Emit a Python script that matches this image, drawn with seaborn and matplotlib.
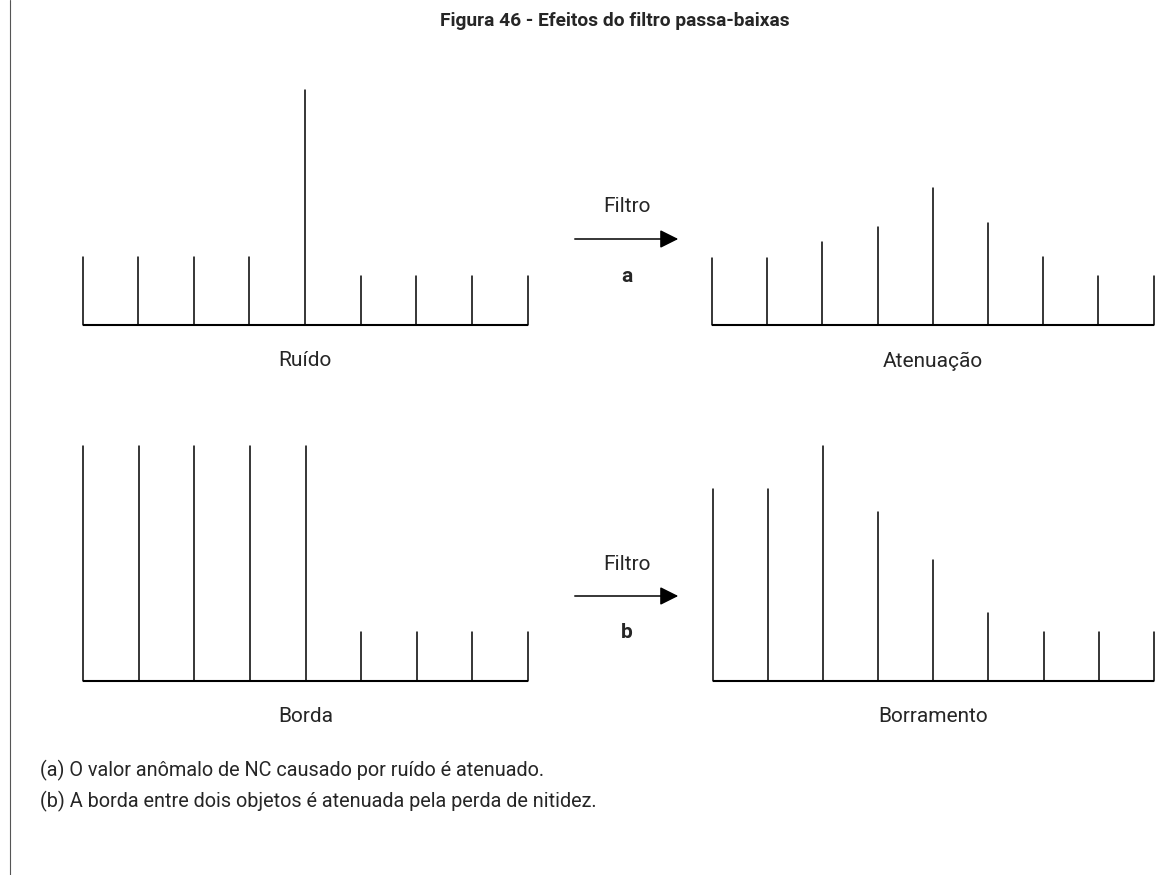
import pandas as pd
import seaborn as sns
import matplotlib.pyplot as plt
from matplotlib.patches import FancyArrowPatch
from matplotlib.lines import Line2D

# valores dos níveis de cinza (altura das hastes)
ruido = [68, 68, 68, 68, 235, 49, 49, 49, 49]
atenuacao = [67, 67, 83, 98, 137, 102, 68, 49, 49]
borda = [235, 235, 235, 235, 235, 49, 49, 49, 49]
borramento = [192, 192, 235, 169, 121, 68, 49, 49, 49]

titulo = 'Figura 46 - Efeitos do filtro passa-baixas'
legenda_a = '(a) O valor anômalo de NC causado por ruído é atenuado.'
legenda_b = '(b) A borda entre dois objetos é atenuada pela perda de nitidez.'

sns.set_style('white')
plt.rcParams['font.family'] = ['Roboto', 'DejaVu Sans']

W, H = 1166, 875
fig = plt.figure(figsize=(W / 100, H / 100), dpi=100)


def fx(x):
    return x / W


def fy(y):
    return 1 - y / H


def painel(valores, x0, x1, y_base, nome):
    ymax = max(ruido + atenuacao + borda + borramento)
    ax = fig.add_axes([fx(x0), fy(y_base), (x1 - x0) / W, ymax / H])
    df = pd.DataFrame({'pos': range(len(valores)), 'nc': valores})
    # cada haste = segmento de 0 até o valor
    hastes = pd.concat([df.assign(y=0), df.assign(y=df['nc'])]).sort_values('pos')
    sns.lineplot(data=hastes, x='pos', y='y', units='pos', estimator=None,
                 sort=False, color='black', lw=1.1, ax=ax, clip_on=False)
    ax.hlines(0, 0, len(valores) - 1, color='black', lw=1.5, clip_on=False)
    ax.set_xlim(0, len(valores) - 1)
    ax.set_ylim(0, ymax)
    ax.axis('off')
    fig.text(fx((x0 + x1) / 2), fy(y_base + 36), nome, ha='center', va='center',
             fontsize=15)
    return ax


painel(ruido, 82.5, 527.5, 325, 'Ruído')
painel(atenuacao, 712, 1153.5, 325, 'Atenuação')
painel(borda, 83, 528, 681, 'Borda')
painel(borramento, 712.5, 1154, 681, 'Borramento')

# setas "Filtro"
for y_seta, letra in [(239, 'a'), (596, 'b')]:
    seta = FancyArrowPatch((fx(572), fy(y_seta)), (fx(681), fy(y_seta)),
                           transform=fig.transFigure, arrowstyle='-|>',
                           mutation_scale=28, color='black', lw=1.1)
    fig.add_artist(seta)
    fig.text(fx(627), fy(y_seta - 32), 'Filtro', ha='center', va='center', fontsize=15)
    fig.text(fx(627), fy(y_seta + 37), letra, ha='center', va='center',
             fontsize=15, fontweight='bold')

fig.text(fx(615), fy(21), titulo, ha='center', va='center', fontsize=13.8,
         fontweight='bold')
fig.text(fx(40), fy(770), legenda_a, ha='left', va='center', fontsize=14.3)
fig.text(fx(40), fy(801), legenda_b, ha='left', va='center', fontsize=14.3)

# margem da página escaneada
fig.add_artist(Line2D([fx(9.5), fx(9.5)], [0, 1], transform=fig.transFigure,
                      color='#555555', lw=0.8))

plt.savefig('out.png', dpi=100)
